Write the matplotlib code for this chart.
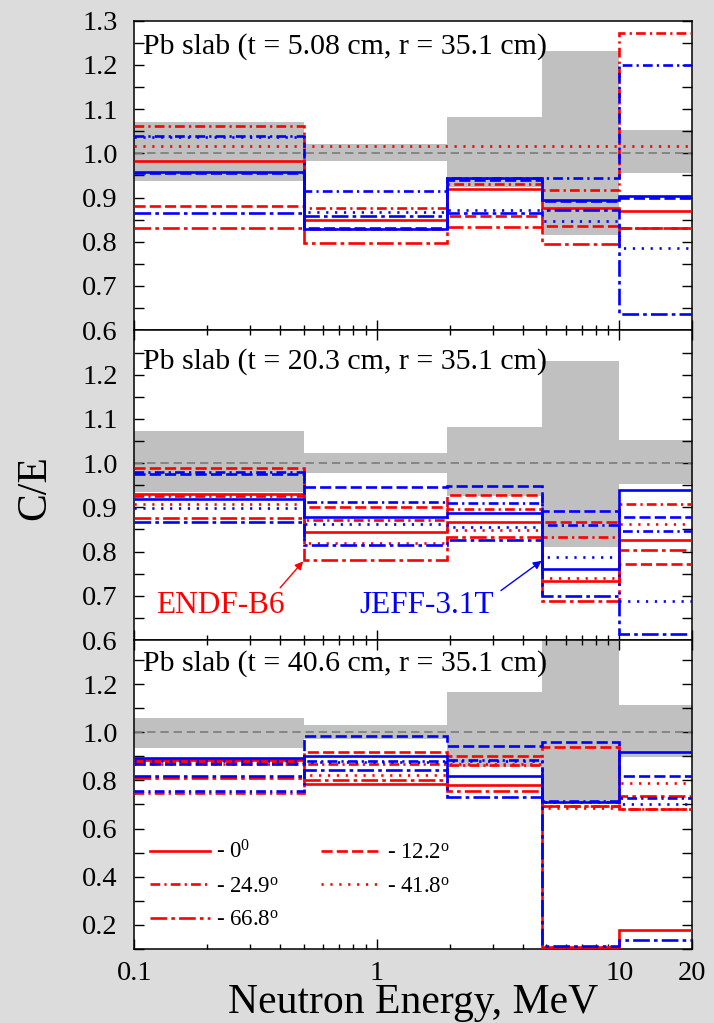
import matplotlib
matplotlib.use('Agg')
import matplotlib.pyplot as plt
from matplotlib.ticker import FixedLocator, FixedFormatter, NullFormatter, FormatStrFormatter

plt.rcParams['font.family'] = ['Liberation Serif', 'DejaVu Serif']
plt.rcParams['mathtext.fontset'] = 'custom'
plt.rcParams['mathtext.rm'] = 'Liberation Serif'
plt.rcParams['mathtext.it'] = 'Liberation Serif:italic'
plt.rcParams['lines.scale_dashes'] = False

# ---------------- data ----------------
EDGES = [0.1, 0.5, 1.95, 4.8, 10, 20]
ANGLES = ['0', '12.2', '24.9', '41.8', '66.8']
TITLES = ['Pb slab (t = 5.08 cm, r = 35.1 cm)',
          'Pb slab (t = 20.3 cm, r = 35.1 cm)',
          'Pb slab (t = 40.6 cm, r = 35.1 cm)']

# experimental uncertainty band (low / high) per energy bin
P1_LO = [0.937, 0.982, 0.925, 0.816, 0.955]
P1_HI = [1.071, 1.022, 1.082, 1.232, 1.052]
P2_LO = [0.934, 0.978, 0.925, 0.811, 0.952]
P2_HI = [1.072, 1.024, 1.082, 1.232, 1.052]
P3_LO = [0.935, 0.970, 0.856, 0.713, 0.896]
P3_HI = [1.060, 1.029, 1.168, 1.400, 1.111]

# C/E values, rows = angles 0, 12.2, 24.9, 41.8, 66.8 deg
P1_ENDF = [[0.983, 0.850, 0.920, 0.876, 0.870],
           [0.880, 0.829, 0.858, 0.835, 0.831],
           [1.062, 0.876, 0.930, 0.916, 1.272],
           [1.016, 1.016, 1.016, 1.016, 1.016],
           [0.831, 0.797, 0.833, 0.796, 0.831]]
P1_JEFF = [[0.957, 0.829, 0.944, 0.894, 0.903],
           [0.955, 0.832, 0.940, 0.892, 0.900],
           [1.040, 0.914, 0.944, 0.944, 1.200],
           [1.036, 0.867, 0.871, 0.846, 0.785],
           [0.865, 0.859, 0.866, 0.871, 0.637]]

P2_ENDF = [[0.930, 0.845, 0.867, 0.733, 0.826],
           [0.988, 0.901, 0.928, 0.866, 0.773],
           [0.926, 0.871, 0.897, 0.834, 0.907],
           [0.907, 0.820, 0.849, 0.740, 0.862],
           [0.875, 0.781, 0.834, 0.688, 0.803]]
P2_JEFF = [[0.919, 0.879, 0.888, 0.760, 0.939],
           [0.976, 0.945, 0.949, 0.891, 0.879],
           [0.979, 0.912, 0.910, 0.860, 0.846],
           [0.898, 0.862, 0.856, 0.787, 0.688],
           [0.867, 0.815, 0.826, 0.700, 0.613]]

P3_ENDF = [[0.884, 0.787, 0.780, 0.110, 0.180],
           [0.877, 0.918, 0.903, 0.939, 0.682],
           [0.748, 0.870, 0.866, 0.695, 0.682],
           [0.870, 0.824, 0.870, 0.686, 0.790],
           [0.808, 0.800, 0.755, 0.695, 0.734]]
P3_JEFF = [[0.891, 0.903, 0.820, 0.710, 0.917],
           [0.870, 0.986, 0.942, 0.960, 0.817],
           [0.758, 0.880, 0.886, 0.716, 0.727],
           [0.880, 0.878, 0.880, 0.710, 0.700],
           [0.817, 0.845, 0.730, 0.114, 0.139]]

PANELS = [(P1_LO, P1_HI, P1_ENDF, P1_JEFF),
          (P2_LO, P2_HI, P2_ENDF, P2_JEFF),
          (P3_LO, P3_HI, P3_ENDF, P3_JEFF)]

# ---------------- styles ----------------
STYLES = ['-', (0, (8, 3)), (0, (7, 3, 1.6, 3)), (0, (1.6, 4.8)), (0, (12, 3, 2.6, 3))]
RED = '#ff0000'
BLUE = '#0000ff'
BAND = '#c0c0c0'
LW = 1.9

fig = plt.figure(figsize=(7.14, 10.23), dpi=100, facecolor='#dcdcdc')
left, width = 134.3 / 714, (692.3 - 134.3) / 714
tops = [20.7, 330.5, 639.5]
bottom_px = 949.0
h = (bottom_px - 639.5)
axes = []
for i, t in enumerate(tops):
    b = 1 - (t + h) / 1023
    ax = fig.add_axes([left, b, width, h / 1023])
    axes.append(ax)

ylims = [(0.6, 1.3), (0.6, 1.3), (0.1, 1.385)]
title_y = [0.892, 0.878, 0.900]

for i, ax in enumerate(axes):
    lo, hi, endf, jeff = PANELS[i]
    ax.set_facecolor('white')
    ax.stairs(hi, EDGES, baseline=lo, fill=True, color=BAND, lw=0, zorder=1)
    ax.axhline(1.0, color='#808080', lw=1.3, ls=(0, (6, 3.5)), zorder=2)
    for k in range(5):
        ax.stairs(endf[k], EDGES, baseline=None, color=RED, lw=LW,
                  linestyle=STYLES[k], zorder=3)
        ax.stairs(jeff[k], EDGES, baseline=None, color=BLUE, lw=LW,
                  linestyle=STYLES[k], zorder=4)
    ax.set_xscale('log')
    ax.set_xlim(0.1, 20)
    ax.set_ylim(*ylims[i])
    ax.xaxis.set_major_locator(FixedLocator([0.1, 1, 10, 20]))
    ax.xaxis.set_minor_locator(FixedLocator([0.2, 0.3, 0.4, 0.5, 0.6, 0.7, 0.8, 0.9,
                                             2, 3, 4, 5, 6, 7, 8, 9]))
    ax.xaxis.set_minor_formatter(NullFormatter())
    if i == 2:
        ax.xaxis.set_major_formatter(FixedFormatter(['0.1', '1', '10', '20']))
    else:
        ax.xaxis.set_major_formatter(NullFormatter())
    if i < 2:
        maj = [0.6, 0.7, 0.8, 0.9, 1.0, 1.1, 1.2] + ([1.3] if i == 0 else [])
        mnr = [0.65, 0.75, 0.85, 0.95, 1.05, 1.15, 1.25]
    else:
        maj = [0.2, 0.4, 0.6, 0.8, 1.0, 1.2]
        mnr = [0.1, 0.3, 0.5, 0.7, 0.9, 1.1, 1.3]
    ax.yaxis.set_major_locator(FixedLocator(maj))
    ax.yaxis.set_minor_locator(FixedLocator(mnr))
    ax.yaxis.set_major_formatter(FormatStrFormatter('%.1f'))
    ax.tick_params(axis='both', which='both', direction='in', right=True,
                   top=(i > 0), bottom=True, labelsize=20.5, width=1.0)
    ax.yaxis.set_tick_params(which='both', length=7, pad=12)
    ax.xaxis.set_tick_params(which='major', length=7, pad=9)
    ax.xaxis.set_tick_params(which='minor', length=3.6)
    for sp in ax.spines.values():
        sp.set_linewidth(1.1)
    ax.text(0.016, title_y[i], TITLES[i], transform=ax.transAxes, fontsize=21.5,
            ha='left', va='baseline', zorder=6)

# annotations in the middle panel
ax2 = axes[1]
ax2.annotate('ENDF-B6', xy=(0.497, 0.778), xytext=(0.1225, 0.679), color=RED,
             fontsize=22.5, ha='left', va='center', zorder=7,
             arrowprops=dict(arrowstyle='-|>', color=RED, lw=1.0,
                             shrinkA=0, shrinkB=0, mutation_scale=12,
                             relpos=(0.95, 1.0)))
ax2.annotate('JEFF-3.1T', xy=(4.78, 0.779), xytext=(0.85, 0.679), color=BLUE,
             fontsize=22.5, ha='left', va='center', zorder=7,
             arrowprops=dict(arrowstyle='-|>', color=BLUE, lw=1.0,
                             shrinkA=0, shrinkB=0, mutation_scale=12,
                             relpos=(1.05, 1.0)))

# legend in the bottom panel
ax3 = axes[2]
labels = [r'- 0$^{0}$', r'- 12.2$^{\mathrm{o}}$', r'- 24.9$^{\mathrm{o}}$',
          r'- 41.8$^{\mathrm{o}}$', r'- 66.8$^{\mathrm{o}}$']
handles = [plt.Line2D([], [], color=RED, lw=LW, linestyle=STYLES[k]) for k in range(5)]
order = [0, 2, 4, 1, 3]
ax3.legend([handles[k] for k in order], [labels[k] for k in order], ncol=2,
           loc='upper left', bbox_to_anchor=(0.028, 0.35), frameon=False,
           fontsize=16.5, handlelength=2.6, handletextpad=0.3, columnspacing=1.8,
           labelspacing=0.55, borderpad=0, borderaxespad=0)

fig.text(35 / 714, 1 - 488 / 1023, 'C/E', rotation=90, fontsize=30,
         ha='center', va='center')
fig.text(left + width / 2, 1 - 1013 / 1023, 'Neutron Energy, MeV', fontsize=30,
         ha='center', va='baseline')

fig.savefig('out.png', dpi=100, facecolor=fig.get_facecolor())
